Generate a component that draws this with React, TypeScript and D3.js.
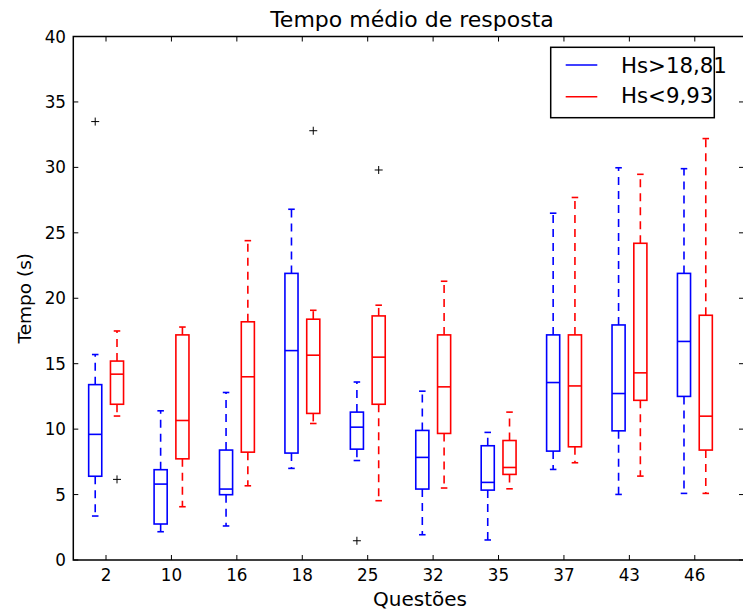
import React from "react";
import * as d3 from "d3";

const questions = ["2", "10", "16", "18", "25", "32", "35", "37", "43", "46"];
const yTicks = [0, 5, 10, 15, 20, 25, 30, 35, 40];

// Hs>18,81 (blue)
const blueLow = [3.36, 2.16, 2.6, 7.0, 7.6, 1.93, 1.53, 6.92, 5.01, 5.09];
const blueQ1 = [6.4, 2.75, 4.99, 8.17, 8.47, 5.42, 5.34, 8.32, 9.87, 12.5];
const blueMed = [9.6, 5.8, 5.42, 16.0, 10.15, 7.84, 5.93, 13.56, 12.72, 16.7];
const blueQ3 = [13.4, 6.9, 8.4, 21.9, 11.3, 9.9, 8.73, 17.2, 17.96, 21.9];
const blueHigh = [15.7, 11.4, 12.8, 26.8, 13.6, 12.9, 9.75, 26.5, 29.97, 29.9];
const blueOutliers: number[][] = [[33.5], [], [], [], [1.47], [], [], [], [], []];

// Hs<9,93 (red)
const redLow = [11.0, 4.07, 5.67, 10.43, 4.53, 5.5, 5.44, 7.43, 6.41, 5.09];
const redQ1 = [11.9, 7.73, 8.24, 11.2, 11.9, 9.67, 6.54, 8.65, 12.2, 8.4];
const redMed = [14.2, 10.66, 14.0, 15.65, 15.5, 13.23, 7.07, 13.3, 14.3, 10.99];
const redQ3 = [15.2, 17.2, 18.2, 18.4, 18.65, 17.2, 9.13, 17.2, 24.2, 18.7];
const redHigh = [17.5, 17.8, 24.4, 19.08, 19.47, 21.3, 11.3, 27.7, 29.47, 32.2];
const redOutliers: number[][] = [[6.16], [], [], [32.8], [29.8], [], [], [], [], []];

const seriesNames = ["Hs>18,81", "Hs<9,93"];
const colors = ["#0000ff", "#ff0000"];

const W = 743;
const H = 610;
const L = 73.3;
const T = 36.5;
const B = 560;
const R = 744;

const FONT = "DejaVu Sans, sans-serif";

export default function App() {
  const x = d3.scaleLinear().domain([0.5, 10.5]).range([L, L + 654.2]);
  const y = d3.scaleLinear().domain([0, 40]).range([B, T]);
  const boxW = x(0.2) - x(0);
  const capW = boxW / 2;

  const series = [
    { low: blueLow, q1: blueQ1, med: blueMed, q3: blueQ3, high: blueHigh, out: blueOutliers, off: -0.165, color: colors[0] },
    { low: redLow, q1: redQ1, med: redMed, q3: redQ3, high: redHigh, out: redOutliers, off: 0.168, color: colors[1] },
  ];

  const lw = 1.6;

  return (
    <svg width={W} height={H} style={{ position: "absolute", left: 0, top: 0, background: "#fff" }}>
      <rect x={0} y={0} width={W} height={H} fill="#fff" />
      {/* boxes */}
      {series.map((s, si) =>
        questions.map((q, i) => {
          const cx = x(i + 1 + s.off);
          return (
            <g key={`${si}-${q}`}>
              <path
                d={`M${cx},${y(s.q1[i])}L${cx},${y(s.low[i])}`}
                stroke={s.color}
                strokeWidth={lw}
                strokeDasharray="8,6"
                fill="none"
              />
              <path
                d={`M${cx},${y(s.q3[i])}L${cx},${y(s.high[i])}`}
                stroke={s.color}
                strokeWidth={lw}
                strokeDasharray="8,6"
                fill="none"
              />
              <line x1={cx - capW / 2} x2={cx + capW / 2} y1={y(s.low[i])} y2={y(s.low[i])} stroke={s.color} strokeWidth={lw} />
              <line x1={cx - capW / 2} x2={cx + capW / 2} y1={y(s.high[i])} y2={y(s.high[i])} stroke={s.color} strokeWidth={lw} />
              <rect
                x={cx - boxW / 2}
                y={y(s.q3[i])}
                width={boxW}
                height={y(s.q1[i]) - y(s.q3[i])}
                fill="none"
                stroke={s.color}
                strokeWidth={lw}
              />
              <line x1={cx - boxW / 2} x2={cx + boxW / 2} y1={y(s.med[i])} y2={y(s.med[i])} stroke={s.color} strokeWidth={lw} />
              {s.out[i].map((v, k) => (
                <g key={k} stroke="#000" strokeWidth={1}>
                  <line x1={cx - 4} x2={cx + 4} y1={y(v)} y2={y(v)} />
                  <line x1={cx} x2={cx} y1={y(v) - 4} y2={y(v) + 4} />
                </g>
              ))}
            </g>
          );
        })
      )}

      {/* ticks */}
      {questions.map((q, i) => (
        <g key={q}>
          <line x1={x(i + 1)} x2={x(i + 1)} y1={B} y2={B - 5} stroke="#000" strokeWidth={1} />
          <line x1={x(i + 1)} x2={x(i + 1)} y1={T} y2={T + 5} stroke="#000" strokeWidth={1} />
          <text x={x(i + 1)} y={581} textAnchor="middle" fontFamily={FONT} fontSize={16.8} fill="#000">
            {q}
          </text>
        </g>
      ))}
      {yTicks.map((t) => (
        <g key={t}>
          <line x1={L} x2={L + 5} y1={y(t)} y2={y(t)} stroke="#000" strokeWidth={1} />
          <line x1={R} x2={R - 5} y1={y(t)} y2={y(t)} stroke="#000" strokeWidth={1} />
          <text x={66} y={y(t)} dy="0.36em" textAnchor="end" fontFamily={FONT} fontSize={16.8} fill="#000">
            {t}
          </text>
        </g>
      ))}

      {/* frame */}
      <rect x={L} y={T} width={R - L} height={B - T} fill="none" stroke="#000" strokeWidth={1.5} />

      {/* title & labels */}
      <text x={412} y={27} textAnchor="middle" fontFamily={FONT} fontSize={22} fill="#000">
        Tempo médio de resposta
      </text>
      <text x={420} y={606} textAnchor="middle" fontFamily={FONT} fontSize={20} fill="#000">
        Questões
      </text>
      <text transform={`translate(31,${(T + B) / 2}) rotate(-90)`} textAnchor="middle" fontFamily={FONT} fontSize={18.5} fill="#000">
        Tempo (s)
      </text>

      {/* legend */}
      <rect x={550.7} y={47.3} width={163.6} height={70.4} fill="#fff" stroke="#000" strokeWidth={1.5} />
      {seriesNames.map((n, i) => (
        <g key={n}>
          <line x1={565.7} x2={597.3} y1={65 + i * 31.7} y2={65 + i * 31.7} stroke={colors[i]} strokeWidth={lw} />
          <text x={621} y={73.3 + i * 30} fontFamily={FONT} fontSize={21.3} fill="#000">
            {n}
          </text>
        </g>
      ))}
    </svg>
  );
}
